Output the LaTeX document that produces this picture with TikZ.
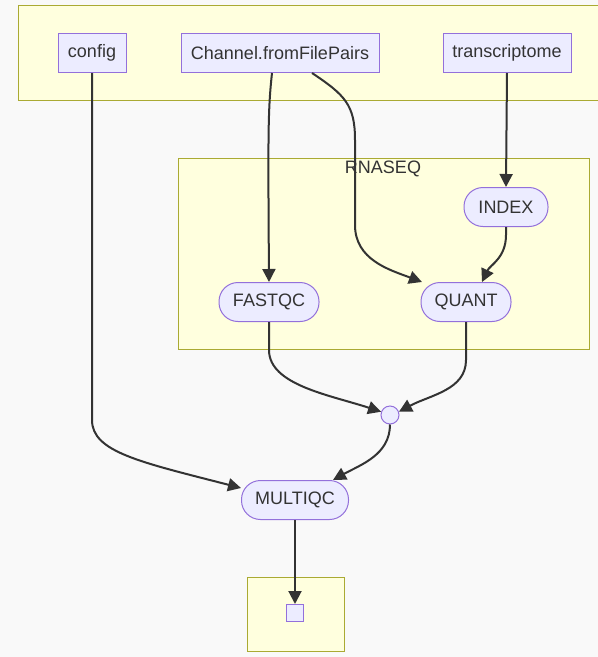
\documentclass[tikz,border=0pt]{standalone}
\usepackage{fontspec}
\setmainfont{Liberation Sans}
\usetikzlibrary{arrows.meta}
\definecolor{nodefill}{HTML}{ECECFF}
\definecolor{nodeline}{HTML}{9370DB}
\definecolor{boxfill}{HTML}{FFFFDE}
\definecolor{boxline}{HTML}{AAAA33}
\definecolor{ink}{HTML}{333333}
\definecolor{paper}{HTML}{F9F9F9}
\begin{document}
\begin{tikzpicture}[x=1pt,y=-1pt,
    every node/.style={text=ink,font=\fontsize{18}{21}\selectfont},
    chan/.style={draw=nodeline,fill=nodefill,line width=1pt,minimum height=39pt,inner sep=0pt},
    proc/.style={chan,rounded corners=19pt},
    cluster/.style={draw=boxline,fill=boxfill,line width=1pt},
    flow/.style={draw=ink,line width=2pt,-{Triangle[length=13pt,width=13pt]}}]
      \clip (0,0) rectangle (598,657);
      \fill[paper] (0,0) rectangle (598,657);
      \draw[cluster] (18,5) rectangle (610,100);
      \draw[cluster] (178,158) rectangle (589,349);
      \draw[cluster] (247,577) rectangle (344,651);
      \draw
        (383,169) node (rnaseq){RNASEQ}
        (92,53) node[chan,minimum width=68pt] (config){config}
        (280,53) node[chan,minimum width=198pt] (chan){Channel.fromFilePairs}
        (507,53) node[chan,minimum width=128pt] (transcriptome){transcriptome}
        (506,207) node[proc,minimum width=84pt] (index){INDEX}
        (269,302) node[proc,minimum width=100pt] (fastqc){FASTQC}
        (466,302) node[proc,minimum width=90pt] (quant){QUANT}
        (390,415) node[circle,draw=nodeline,fill=nodefill,line width=1pt,minimum size=18pt,inner sep=0pt] (join){}
        (295,500) node[proc,minimum width=107pt] (multiqc){MULTIQC}
        (295,613) node[draw=nodeline,fill=nodefill,line width=1pt,minimum size=17pt,inner sep=0pt] (out){};
      \begin{scope}[flow]
        \draw (config.south) -- (92,420) .. controls (92,452) and (140,462) .. ([yshift=12pt]multiqc.west);
        \draw ([xshift=-8pt]chan.south) .. controls (268,110) and (268,130) .. (fastqc.north);
        \draw ([xshift=32pt]chan.south) .. controls (345,95) and (355,105) .. (355,140) -- (355,225) .. controls (355,260) and (390,270) .. ([xshift=-44pt]quant.north);
        \draw (transcriptome.south) -- (index.north);
        \draw (index.south) -- (506,235) .. controls (506,258) and (490,265) .. ([xshift=16pt]quant.north);
        \draw (fastqc.south) -- (269,350) .. controls (269,385) and (330,395) .. (join.160);
        \draw (quant.south) -- (466,360) .. controls (466,390) and (430,395) .. (join.20);
        \draw (join.south) .. controls (390,455) and (360,465) .. ([xshift=38pt]multiqc.north);
        \draw (multiqc.south) -- (out.north);
      \end{scope}
    \end{tikzpicture}
\end{document}
